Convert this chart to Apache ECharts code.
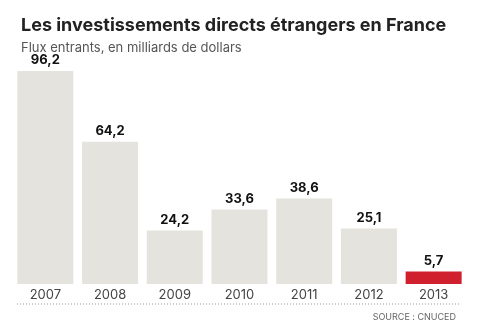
<!DOCTYPE html>
<html><head><meta charset="utf-8">
<script src="https://cdn.jsdelivr.net/npm/echarts@6/dist/echarts.min.js"></script>
<style>html,body{margin:0;padding:0;background:#fff}#c{width:479px;height:335px}</style>
</head><body><div id="c"></div>
<script>
const categories = ['2007','2008','2009','2010','2011','2012','2013'];
const values = [96.2, 64.2, 24.2, 33.6, 38.6, 25.1, 5.7];
const highlightYear = '2013';
const titleText = 'Les investissements directs étrangers en France';
const subtitleText = 'Flux entrants, en milliards de dollars';
const sourceText = 'SOURCE : CNUCED';

const chart = echarts.init(document.getElementById('c'), null, {renderer:'canvas'});
const fmt = v => String(v).replace('.', ',');
chart.setOption({
  animation: false,
  backgroundColor: '#fff',
  title: [
    {text: titleText, left: 16, top: 12, textStyle: {fontFamily: 'Inter', fontWeight: 'bold', fontSize: 18, color: '#222'}},
    {text: subtitleText, left: 16, top: 37, textStyle: {fontFamily: 'Inter', fontWeight: 'normal', fontSize: 13, color: '#555'}},
    {text: sourceText, right: 18, top: 308, textStyle: {fontFamily: 'Inter', fontWeight: 'normal', fontSize: 9, color: '#666'}}
  ],
  grid: {left: 13, right: 13, top: 62.6, bottom: 51, containLabel: false},
  xAxis: {
    type: 'category', data: categories,
    axisLine: {show: false}, axisTick: {show: false},
    axisLabel: {fontFamily: 'Inter', fontSize: 13, color: '#444', margin: 5}
  },
  yAxis: {type: 'value', min: 0, max: 100, show: false, splitLine: {show: false}},
  series: [{
    type: 'bar', barWidth: 56,
    data: values.map((v, i) => ({value: v, itemStyle: {color: categories[i] === highlightYear ? '#d0202e' : '#e5e3de'}})),
    label: {show: true, position: 'top', distance: 4, formatter: p => fmt(p.value),
      fontFamily: 'Inter', fontWeight: 'bold', fontSize: 13, color: '#111'}
  }],
  graphic: [{
    type: 'line', shape: {x1: 17, y1: 304, x2: 461, y2: 304},
    style: {stroke: '#999', lineWidth: 1, lineDash: [1, 2]}
  }]
});
</script></body></html>
